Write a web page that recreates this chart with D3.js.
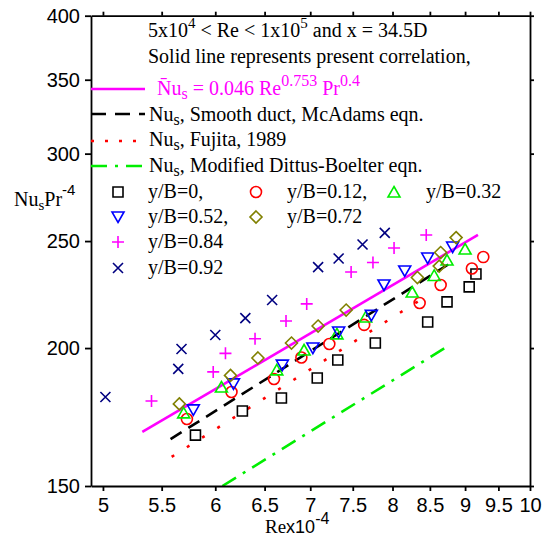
<!DOCTYPE html>
<html>
<head>
<meta charset="utf-8">
<script src="https://cdn.jsdelivr.net/npm/d3@7/dist/d3.min.js"></script>
<style>
  body { margin: 0; background: #fff; }
  svg { display: block; }
</style>
</head>
<body>
<svg id="chart" width="553" height="537"></svg>
<script>
// ---------- data ----------
const xTicks = [5, 5.5, 6, 6.5, 7, 7.5, 8, 8.5, 9, 9.5, 10];
const yTicks = [150, 200, 250, 300, 350, 400];

const reSquare   = [5.81, 6.27, 6.68, 7.08, 7.32, 7.78, 8.47, 8.74, 9.06, 9.16];
const nuSquare   = [166.8, 175.4, 180.2, 187.9, 195.1, 202.1, 211.2, 220.2, 227.2, 233.4];
const reCircle   = [5.73, 6.16, 6.60, 6.90, 7.22, 7.64, 8.36, 8.65, 9.10, 9.27];
const nuCircle   = [172.5, 182.5, 187.5, 196.1, 201.7, 209.9, 219.7, 228.1, 236.1, 241.8];
const reTriUp    = [5.70, 6.06, 6.63, 6.93, 7.31, 7.66, 8.26, 8.56, 8.74, 9.00];
const nuTriUp    = [174.7, 184.4, 191.1, 199.2, 206.0, 213.4, 224.8, 232.7, 240.3, 245.9];
const reTriDown  = [5.79, 6.18, 6.69, 7.03, 7.33, 7.73, 7.89, 8.16, 8.47, 8.82];
const nuTriDown  = [175.8, 185.6, 193.0, 200.0, 206.8, 214.1, 228.1, 234.9, 241.3, 246.9];
const reDiamond  = [5.66, 6.15, 6.43, 6.79, 7.09, 7.42, 8.33, 8.63, 8.65, 8.87];
const nuDiamond  = [178.0, 188.9, 195.9, 202.1, 209.4, 216.5, 231.7, 237.3, 244.1, 251.8];
const rePlus     = [5.41, 5.98, 6.10, 6.40, 6.73, 6.96, 7.48, 7.75, 8.02, 8.45];
const nuPlus     = [179.1, 190.3, 197.8, 203.9, 211.6, 219.3, 234.4, 239.1, 246.4, 253.2];
const reCross    = [5.02, 5.65, 5.68, 6.00, 6.30, 6.58, 7.09, 7.33, 7.62, 7.90];
const nuCross    = [180.6, 191.5, 199.6, 205.5, 212.9, 221.1, 236.8, 241.1, 248.2, 254.3];

const rePresent = [5.33, 9.19];  const nuPresent = [167.9, 253.2];
const reMcAdams = [5.58, 8.79];  const nuMcAdams = [165.4, 238.8];
const reFujita  = [5.59, 8.41];  const nuFujita  = [159.4, 222.0];
const reDittus  = [6.07, 8.79];  const nuDittus  = [150.0, 201.5];

const seriesLabels = ["y/B=0,", "y/B=0.12,", "y/B=0.32", "y/B=0.52,", "y/B=0.72", "y/B=0.84", "y/B=0.92"];

// ---------- setup ----------
const svg = d3.select("#chart");
const W = 553, H = 537;
svg.append("rect").attr("width", W).attr("height", H).attr("fill", "#fff");

const L = 91, R = 530, T = 15.7, B = 486;
const x = d3.scaleLog().domain([4.904, 10]).range([L, R]);
const y = d3.scaleLog().domain([150, 400]).range([B, T]);

const SANS = "'Liberation Sans', Arial, sans-serif";
const SERIF = "'Liberation Serif', 'Times New Roman', serif";

svg.append("defs").append("clipPath").attr("id", "plotclip")
  .append("rect").attr("x", L).attr("y", T).attr("width", R - L).attr("height", B - T);

// ---------- lines ----------
const lineGen = d3.line().x(d => x(d[0])).y(d => y(d[1]));
const lines = [
  { re: rePresent, nu: nuPresent, color: "#ff00ff", dash: null },
  { re: reMcAdams, nu: nuMcAdams, color: "#000000", dash: "13,8" },
  { re: reFujita,  nu: nuFujita,  color: "#ff0000", dash: "3,15" },
  { re: reDittus,  nu: nuDittus,  color: "#00ee00", dash: "16,8,3,8" }
];
const gLines = svg.append("g").attr("clip-path", "url(#plotclip)");
lines.forEach(l => {
  gLines.append("path")
    .attr("d", lineGen(d3.zip(l.re, l.nu)))
    .attr("fill", "none")
    .attr("stroke", l.color)
    .attr("stroke-width", 2.6)
    .attr("stroke-dasharray", l.dash);
});

// ---------- markers ----------
function markerPath(type) {
  switch (type) {
    case "square": return "M-5,-5H5V5H-5Z";
    case "circle": return "M-5.5,0A5.5,5.5 0 1,0 5.5,0A5.5,5.5 0 1,0 -5.5,0Z";
    case "triUp": return "M0,-5.5L6,5L-6,5Z";
    case "triDown": return "M0,5.5L6,-5L-6,-5Z";
    case "diamond": return "M0,-6L6,0L0,6L-6,0Z";
    case "plus": return "M-6,0H6M0,-6V6";
    case "cross": return "M-5,-5L5,5M-5,5L5,-5";
  }
}
const series = [
  { re: reSquare,  nu: nuSquare,  type: "square",  color: "#000000" },
  { re: reCircle,  nu: nuCircle,  type: "circle",  color: "#ff0000" },
  { re: reTriUp,   nu: nuTriUp,   type: "triUp",   color: "#00ee00" },
  { re: reTriDown, nu: nuTriDown, type: "triDown", color: "#0000ff" },
  { re: reDiamond, nu: nuDiamond, type: "diamond", color: "#808000" },
  { re: rePlus,    nu: nuPlus,    type: "plus",    color: "#ff00ff" },
  { re: reCross,   nu: nuCross,   type: "cross",   color: "#000080" }
];
const gPts = svg.append("g");
series.forEach(s => {
  gPts.selectAll(null).data(d3.zip(s.re, s.nu)).enter()
    .append("path")
    .attr("transform", d => `translate(${x(d[0])},${y(d[1])})`)
    .attr("d", markerPath(s.type))
    .attr("fill", "none")
    .attr("stroke", s.color)
    .attr("stroke-width", 1.6);
});

// ---------- axes ----------
function styleAxis(g) {
  g.selectAll("path, line").attr("stroke", "#000").attr("stroke-width", 1.8);
  g.selectAll("text").attr("fill", "#000").attr("font-family", SANS).attr("font-size", 20);
}
const gL = svg.append("g").attr("transform", `translate(${L},0)`)
  .call(d3.axisLeft(y).tickValues(yTicks).tickFormat(d3.format("d")).tickSize(6).tickSizeOuter(0).tickPadding(5));
styleAxis(gL);
const gB = svg.append("g").attr("transform", `translate(0,${B})`)
  .call(d3.axisBottom(x).tickValues(xTicks).tickFormat(d => String(d)).tickSize(5).tickSizeOuter(0).tickPadding(7));
styleAxis(gB);
const gR = svg.append("g").attr("transform", `translate(${R},0)`)
  .call(d3.axisRight(y).tickValues(yTicks).tickFormat("").tickSize(4).tickSizeOuter(0));
styleAxis(gR);
const gT = svg.append("g").attr("transform", `translate(0,${T})`)
  .call(d3.axisTop(x).tickValues(xTicks).tickFormat("").tickSize(4).tickSizeOuter(0));
styleAxis(gT);

// axis titles
const yTitle = svg.append("text").attr("x", 14).attr("y", 206)
  .attr("font-family", SERIF).attr("font-size", 20).attr("fill", "#000");
yTitle.append("tspan").text("Nu");
yTitle.append("tspan").attr("font-size", 15).attr("dy", 4).text("s");
yTitle.append("tspan").attr("dy", -4).text("Pr");
yTitle.append("tspan").attr("font-family", SANS).attr("font-size", 15).attr("dy", -11).text("-4");

const xTitle = svg.append("text").attr("x", 265).attr("y", 532.5)
  .attr("font-family", SANS).attr("font-size", 18).attr("fill", "#000");
xTitle.append("tspan").attr("font-family", SERIF).attr("font-size", 19).text("Re");
xTitle.append("tspan").text("x10");
xTitle.append("tspan").attr("font-size", 16).attr("dy", -9).text("-4");

// ---------- legend / annotations ----------
const gLeg = svg.append("g").attr("font-family", SERIF).attr("font-size", 20).attr("fill", "#000");
const t1 = gLeg.append("text").attr("x", 148).attr("y", 37);
t1.append("tspan").text("5x10");
t1.append("tspan").attr("font-size", 15).attr("dy", -9).text("4");
t1.append("tspan").attr("dy", 9).text(" < Re < 1x10");
t1.append("tspan").attr("font-size", 15).attr("dy", -9).text("5");
t1.append("tspan").attr("dy", 9).text(" and x = 34.5D");

gLeg.append("text").attr("x", 148).attr("y", 63).text("Solid line represents present correlation,");

// line samples
const sampleX = [91, 145];
const sampleY = [89, 114, 141, 166];
lines.forEach((l, i) => {
  gLeg.append("line")
    .attr("x1", sampleX[0]).attr("x2", sampleX[1])
    .attr("y1", sampleY[i]).attr("y2", sampleY[i])
    .attr("stroke", l.color).attr("stroke-width", 2.6)
    .attr("stroke-dasharray", i === 1 ? "15,9" : i === 2 ? "3,11" : l.dash);
});

const t3 = gLeg.append("text").attr("x", 157).attr("y", 95).attr("fill", "#ff00ff");
t3.append("tspan").text("N\u0304u");
t3.append("tspan").attr("font-size", 16).attr("dy", 4).text("s");
t3.append("tspan").attr("dy", -4).text(" = 0.046 Re");
t3.append("tspan").attr("font-size", 16).attr("dy", -9).text("0.753");
t3.append("tspan").attr("dy", 9).text(" Pr");
t3.append("tspan").attr("font-size", 16).attr("dy", -9).text("0.4");

const eqTexts = [", Smooth duct, McAdams eqn.", ", Fujita, 1989", ", Modified Dittus-Boelter eqn."];
const eqY = [121, 146, 172];
eqTexts.forEach((s, i) => {
  const t = gLeg.append("text").attr("x", 149).attr("y", eqY[i]);
  t.append("tspan").text("Nu");
  t.append("tspan").attr("font-size", 16).attr("dy", 4).text("s");
  t.append("tspan").attr("dy", -4).text(s);
});

// marker legend
const legPos = [
  { mx: 118, tx: 148, y: 198 },
  { mx: 256, tx: 287, y: 198 },
  { mx: 394, tx: 426, y: 198 },
  { mx: 118, tx: 148, y: 223 },
  { mx: 256, tx: 287, y: 223 },
  { mx: 118, tx: 148, y: 248 },
  { mx: 118, tx: 148, y: 274 }
];
series.forEach((s, i) => {
  const p = legPos[i];
  gLeg.append("path")
    .attr("transform", `translate(${p.mx},${p.y - 6})`)
    .attr("d", markerPath(s.type))
    .attr("fill", "none").attr("stroke", s.color).attr("stroke-width", 1.6);
  gLeg.append("text").attr("x", p.tx).attr("y", p.y).text(seriesLabels[i]);
});
</script>
</body>
</html>
